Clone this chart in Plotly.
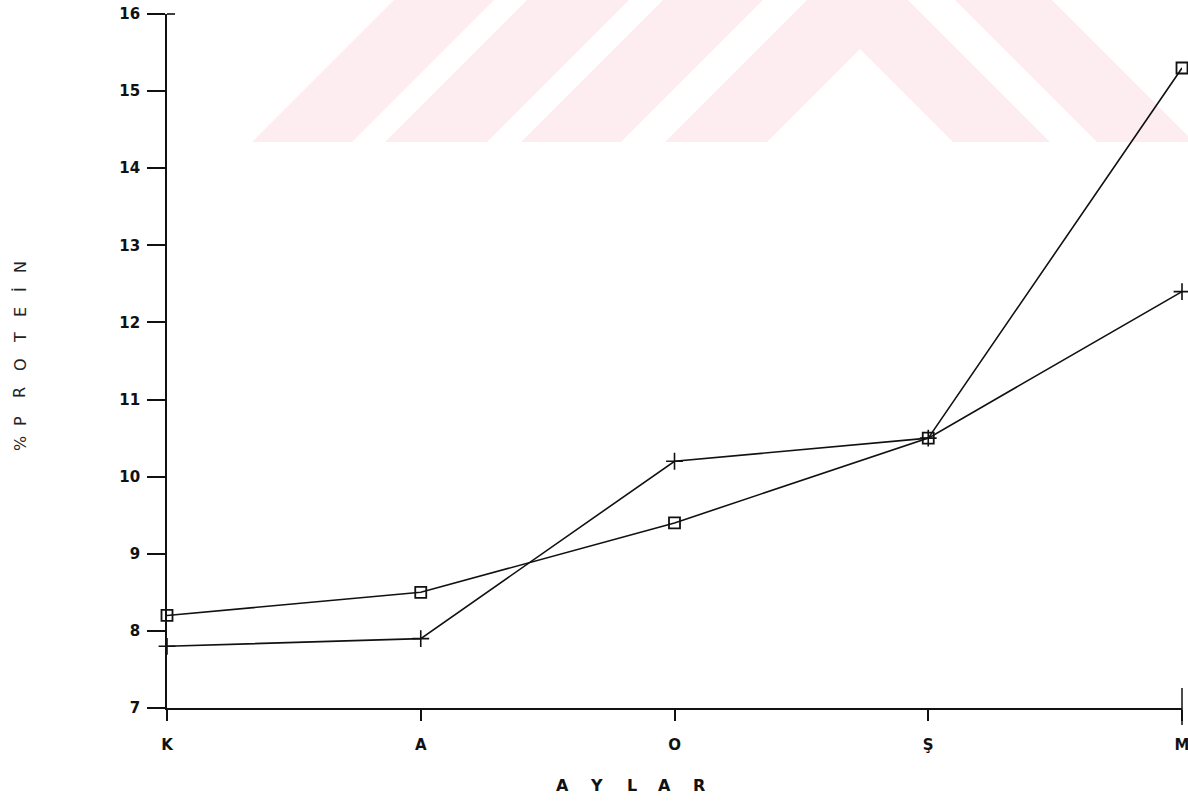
import plotly.graph_objects as go

# ---- data ----
months = ["K", "A", "O", "Ş", "M"]
protein_square = [8.2, 8.5, 9.4, 10.5, 15.3]
protein_plus = [7.8, 7.9, 10.2, 10.5, 12.4]
y_ticks = [7, 8, 9, 10, 11, 12, 13, 14, 15, 16]

W, H = 1188, 806
L, R, T, B = 167, 1182, 14, 708  # plot area in pixels


def px(x):
    return (x - L) / (R - L)


def py(y):
    return (B - y) / (B - T)


xpos = list(range(len(months)))

fig = go.Figure()

# faint watermark (background decoration), pixel polygons converted to paper
pink = "rgb(253,237,240)"
polys = [
    [(252, 142), (352, 142), (494, 0), (394, 0)],
    [(385, 142), (487, 142), (629, 0), (527, 0)],
    [(521, 142), (621, 142), (763, 0), (663, 0)],
    [(665, 142), (767, 142), (860, 49), (953, 142), (1050, 142), (908, 0), (807, 0)],
    [(955, 0), (1052, 0), (1194, 142), (1097, 142)],
]
for poly in polys:
    path = "M " + " L ".join(f"{px(a):.5f},{py(b):.5f}" for a, b in poly) + " Z"
    fig.add_shape(type="path", path=path, xref="paper", yref="paper",
                  fillcolor=pink, line=dict(width=0), layer="below")

fig.add_trace(go.Scatter(
    x=xpos, y=protein_square, mode="lines+markers",
    line=dict(color="#111", width=1.6),
    marker=dict(symbol="square-open", size=11, color="#111", line=dict(width=1.8)),
    cliponaxis=False, showlegend=False))
fig.add_trace(go.Scatter(
    x=xpos, y=protein_plus, mode="lines+markers",
    line=dict(color="#111", width=1.6),
    marker=dict(symbol="cross-thin", size=12, color="#111", line=dict(width=1.6, color="#111")),
    cliponaxis=False, showlegend=False))

fig.update_xaxes(
    range=[0, len(months) - 1], tickvals=xpos, ticktext=months,
    showline=True, linecolor="#111", linewidth=1.6,
    ticks="outside", ticklen=11, tickwidth=1.5, tickcolor="#111",
    showgrid=False, zeroline=False, ticklabelstandoff=11, automargin=False,
    ticklabeloverflow="allow",
    tickfont=dict(family="DejaVu Sans", size=15, color="#111", weight="bold"),
)
fig.update_yaxes(
    range=[7, 16], tickvals=y_ticks,
    showline=True, linecolor="#111", linewidth=1.6,
    ticks="outside", ticklen=18, tickwidth=1.5, tickcolor="#111",
    showgrid=False, zeroline=False, ticklabelstandoff=4, automargin=False,
    ticklabeloverflow="allow",
    tickfont=dict(family="DejaVu Sans", size=15, color="#111", weight="bold"),
)

# small axis decorations seen in the original
fig.add_shape(type="line", xref="paper", yref="paper",
              x0=px(167), x1=px(175), y0=1, y1=1, line=dict(color="#111", width=1.6))
fig.add_shape(type="line", xref="paper", yref="paper",
              x0=1, x1=1, y0=py(688), y1=py(725), line=dict(color="#111", width=1.5))

# axis titles as spaced letters
x_title = ["A", "Y", "L", "A", "R"]
x_title_px = [562, 596, 632, 664, 699]
for ch, xx in zip(x_title, x_title_px):
    fig.add_annotation(text=ch, x=px(xx), y=py(785), xref="paper", yref="paper",
                       showarrow=False, xanchor="center", yanchor="middle",
                       font=dict(family="DejaVu Sans", size=16, color="#111", weight="bold"))

y_title = ["%", "P", "R", "O", "T", "E", "İ", "N"]
y_title_py = [444, 421, 393, 365, 338, 312, 290, 267]
for ch, yy in zip(y_title, y_title_py):
    fig.add_annotation(text=ch, x=px(20), y=py(yy), xref="paper", yref="paper",
                       showarrow=False, xanchor="center", yanchor="middle", textangle=-90,
                       font=dict(family="DejaVu Sans", size=16, color="#222"))

fig.update_layout(
    width=W, height=H,
    margin=dict(l=L, r=W - R, t=T, b=H - B),
    paper_bgcolor="white", plot_bgcolor="rgba(0,0,0,0)",
)

fig.write_html("out.html", config={"displayModeBar": False},
               post_script="document.body.style.margin='0';")
